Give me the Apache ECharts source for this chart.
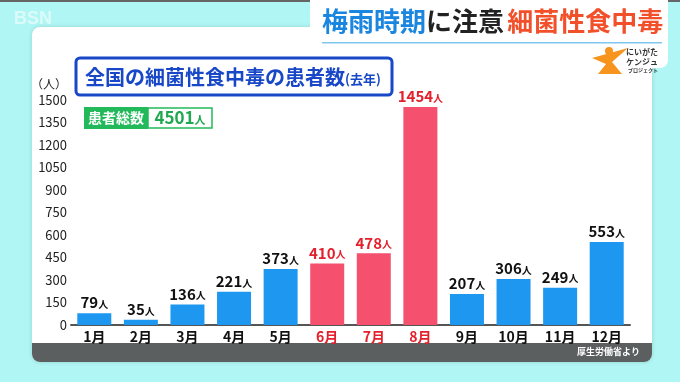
<!DOCTYPE html>
<html><head><meta charset="utf-8">
<script src="https://cdn.jsdelivr.net/npm/echarts@6/dist/echarts.min.js"></script>
<style>html,body{margin:0;padding:0;background:#b0f6f4;}#c{width:680px;height:382px;}</style>
</head><body><div id="c"></div>
<script>
const months = ['1月','2月','3月','4月','5月','6月','7月','8月','9月','10月','11月','12月'];
const patients = [79, 35, 136, 221, 373, 410, 478, 1454, 207, 306, 249, 553];
const highlightMonths = ['6月','7月','8月'];
const yTicks = [0,150,300,450,600,750,900,1050,1200,1350,1500];
const totalPatients = 4501;

const F = '"Noto Sans CJK JP","Noto Sans",sans-serif';
const BLUE = '#1d97ef', PINK = '#f5516f', RED = '#e3202b';

const chart = echarts.init(document.getElementById('c'));
chart.setOption({
  backgroundColor: '#b0f6f4',
  animation: false,
  textStyle: {fontFamily: F},
  grid: {left: 71, right: 50, top: 100, bottom: 57},
  xAxis: {
    type: 'category', data: months,
    axisTick: {show: false},
    axisLine: {lineStyle: {color: '#555', width: 2}},
    axisLabel: {
      margin: 5, fontSize: 14, fontWeight: 'bold', fontFamily: F,
      color: (v) => highlightMonths.includes(v) ? RED : '#111'
    }
  },
  yAxis: {
    type: 'value', min: yTicks[0], max: yTicks[yTicks.length-1], interval: 150,
    splitLine: {show: false}, axisLine: {show: false}, axisTick: {show: false},
    axisLabel: {margin: 4, fontSize: 13, color: '#222', fontFamily: F, formatter: (v) => String(v)}
  },
  series: [{
    type: 'bar', barWidth: 34,
    data: patients.map((v, i) => {
      const hl = highlightMonths.includes(months[i]);
      return {
        value: v,
        itemStyle: {color: hl ? PINK : BLUE},
        label: {
          show: true, position: 'top', distance: 3,
          formatter: '{n|' + v + '}{u|人}',
          rich: {
            n: {fontSize: 15, fontWeight: 'bold', color: hl ? RED : '#111', fontFamily: F},
            u: {fontSize: 10, fontWeight: 'bold', color: hl ? RED : '#111', fontFamily: F, padding: [3,0,0,0]}
          }
        }
      };
    })
  }],
  graphic: [
    {type: 'rect', z: -10, silent: true, shape: {x: 0, y: 0, width: 680, height: 2}, style: {fill: '#666'}},
    {type: 'text', z: -9, style: {x: 14, y: 10, text: 'BSN', font: 'bold 18px sans-serif', fill: 'rgba(255,255,255,0.55)'}},
    {type: 'rect', z: -8, silent: true, shape: {x: 32, y: 27, width: 620, height: 335, r: 8}, style: {fill: '#fff', shadowBlur: 4, shadowColor: 'rgba(0,0,0,0.15)'}},
    {type: 'rect', z: -8, silent: true, shape: {x: 310, y: -10, width: 358, height: 78, r: 8}, style: {fill: '#fff'}},
    {type: 'rect', z: -7, silent: true, shape: {x: 32, y: 343, width: 620, height: 19, r: [0,0,8,8]}, style: {fill: '#5b5f5f'}},
    {type: 'text', z: 5, style: {x: 640, y: 352, text: '厚生労働省より', font: 'bold 9px ' + F, fill: '#fff', align: 'right', verticalAlign: 'middle'}},
    // header
    {type: 'text', z: 5, style: {x: 322, y: 21, verticalAlign: 'middle', text: '{b|梅雨時期}{k|に注意} {r|細菌性食中毒}',
      rich: {
        b: {font: 'bold 26px ' + F, fill: '#1a86e0'},
        k: {font: 'bold 26px ' + F, fill: '#222'},
        r: {font: 'bold 26px ' + F, fill: '#f2502a'}
      }}},
    {type: 'rect', z: 5, shape: {x: 322, y: 42, width: 340, height: 1.5}, style: {fill: '#7ec8f0'}},
    // title box
    {type: 'rect', z: 5, shape: {x: 76, y: 58, width: 316, height: 37, r: 4}, style: {fill: '#fff', stroke: '#1848c8', lineWidth: 3}},
    {type: 'text', z: 6, style: {x: 85, y: 77, verticalAlign: 'middle', text: '{a|全国の細菌性食中毒の患者数}{s|(去年)}',
      rich: {
        a: {font: 'bold 20px ' + F, fill: '#1848c8'},
        s: {font: 'bold 13px ' + F, fill: '#1848c8', padding: [4,0,0,0]}
      }}},
    // y unit
    {type: 'text', z: 5, style: {x: 67, y: 84, text: '（人）', font: '12px ' + F, fill: '#222', align: 'right', verticalAlign: 'middle'}},
    // total box
    {type: 'rect', z: 5, shape: {x: 84, y: 107, width: 64, height: 22}, style: {fill: '#22b95a'}},
    {type: 'text', z: 6, style: {x: 116, y: 118, text: '患者総数', font: 'bold 14px ' + F, fill: '#fff', align: 'center', verticalAlign: 'middle'}},
    {type: 'rect', z: 5, shape: {x: 148, y: 108, width: 64, height: 20}, style: {fill: '#fff', stroke: '#22b95a', lineWidth: 1.5}},
    {type: 'text', z: 6, style: {x: 180, y: 118, align: 'center', verticalAlign: 'middle', text: '{n|' + totalPatients + '}{u|人}',
      rich: {n: {font: 'bold 17px ' + F, fill: '#1fa84f'}, u: {font: 'bold 11px ' + F, fill: '#1fa84f', padding: [4,0,0,0]}}}},
    // logo
    {type: 'circle', z: 5, shape: {cx: 609, cy: 51, r: 4}, style: {fill: '#f7941d'}},
    {type: 'polygon', z: 5, shape: {points: [[592,58],[628,48],[612,62],[622,74],[598,74],[606,64]]}, style: {fill: '#f7941d'}},
    {type: 'text', z: 5, style: {x: 626, y: 48, text: 'にいがた', font: 'bold 8px ' + F, fill: '#333'}},
    {type: 'text', z: 5, style: {x: 626, y: 58, text: 'ケンジュ', font: 'bold 8px ' + F, fill: '#333'}},
    {type: 'text', z: 5, style: {x: 628, y: 68, text: 'プロジェクト', font: 'bold 5px ' + F, fill: '#333'}}
  ]
});
</script></body></html>
